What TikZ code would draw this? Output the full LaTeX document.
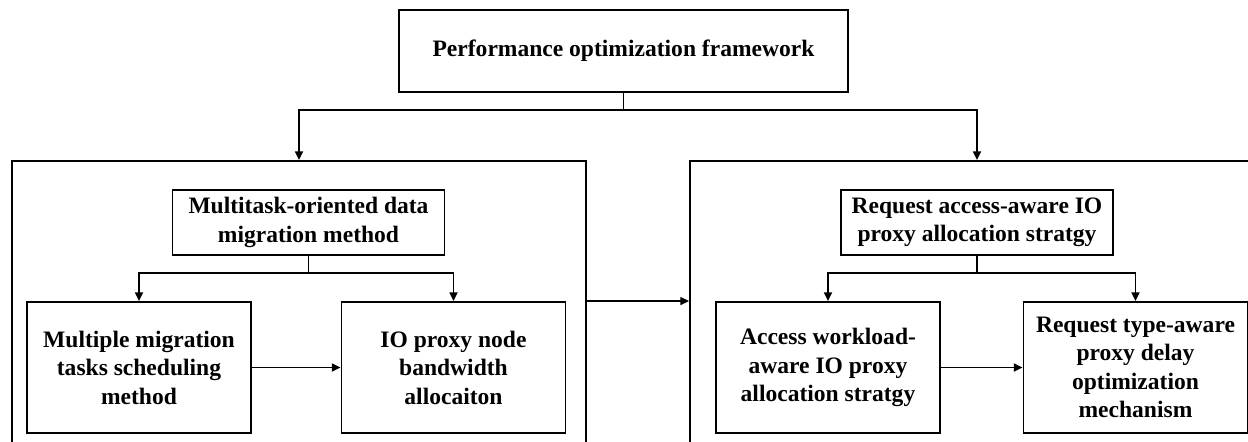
\documentclass[tikz,border=0pt]{standalone}
\usepackage{fontspec}
\setmainfont{Liberation Serif}
\usetikzlibrary{arrows.meta}

\begin{document}
\begin{tikzpicture}[x=0.02cm,y=-0.02cm,line width=1.1pt,
  box/.style={draw,align=center,inner sep=2pt,font=\fontsize{13.4}{16.2}\selectfont\bfseries},
  part/.style={draw,minimum width=11.48cm,minimum height=6.18cm},
  method/.style={box,minimum width=5.44cm,minimum height=1.3cm},
  leaf/.style={box,minimum width=4.48cm,minimum height=2.62cm},
  arr/.style={-{Triangle[length=5pt,width=4.5pt]}}]
\useasboundingbox (0,0) rectangle (1248,441);
\clip (0,0) rectangle (1248,441);
%
\node[box,minimum width=8.98cm,minimum height=1.64cm] (framework) at (623.5,51)
  {Performance optimization framework};
\node[part] (migration) at (299,315.5) {};
\node[part] (proxyalloc) at (977,315.5) {};
%
\node[method] (migmethod) at (308.5,222.5) {Multitask-oriented data\\migration method};
\node[method] (proxystrategy) at (977,222.5) {Request access-aware IO\\proxy allocation stratgy};
%
\node[leaf] (tasksched) at (139,367.5) {Multiple migration\\tasks scheduling\\method};
\node[leaf] (bwalloc) at (453.5,367.5) {IO proxy node\\bandwidth\\allocaiton};
\node[leaf] (workload) at (828,367.5) {Access workload-\\aware IO proxy\\allocation stratgy};
\node[leaf] (delayopt) at (1135.5,367.5) {Request type-aware\\proxy delay\\optimization\\mechanism};
%
\draw[arr] (framework.south) -- ++(0,17) -| (migration.north);
\draw[arr] (framework.south) -- ++(0,17) -| (proxyalloc.north);
\draw[arr] (migmethod.south) -- ++(0,17) -| (tasksched.north);
\draw[arr] (migmethod.south) -- ++(0,17) -| (bwalloc.north);
\draw[arr] (proxystrategy.south) -- ++(0,17) -| (workload.north);
\draw[arr] (proxystrategy.south) -- ++(0,17) -| (delayopt.north);
\draw[arr] (tasksched) -- (bwalloc);
\draw[arr] (workload) -- (delayopt);
\draw[arr] (migration.east |- tasksched.north) -- (proxyalloc.west |- tasksched.north);
\end{tikzpicture}
\end{document}
